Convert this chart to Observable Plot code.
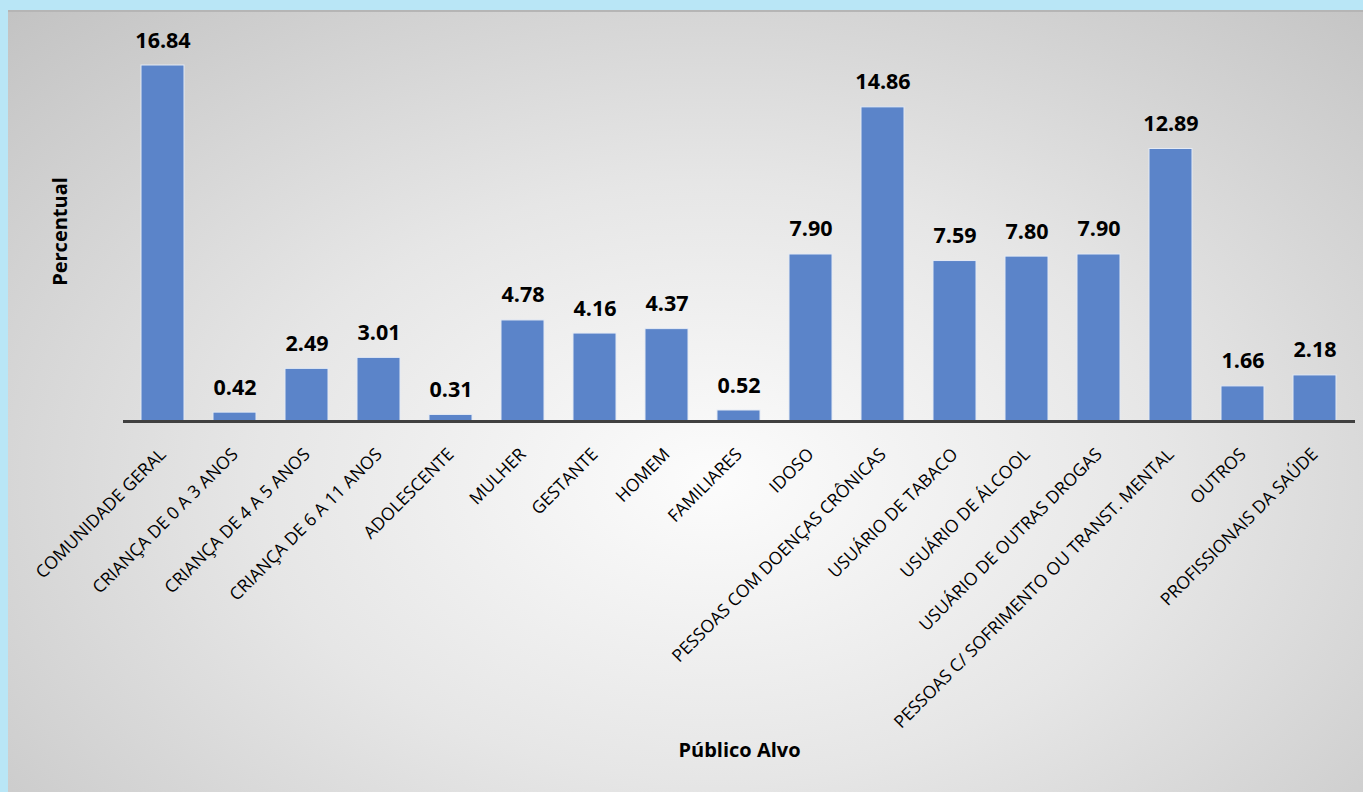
<!DOCTYPE html>
<html>
<head>
<meta charset="utf-8">
<script src="https://cdn.jsdelivr.net/npm/d3@7"></script>
<script src="https://cdn.jsdelivr.net/npm/@observablehq/plot@0.6"></script>
<style>
  html, body { margin: 0; padding: 0; }
  body { width: 1363px; height: 792px; overflow: hidden; background: #b9e6f6; position: relative; font-family: "Open Sans", sans-serif; }
  #panel { position: absolute; left: 8px; top: 10px; width: 1355px; height: 782px;
    border-top: 2px solid #b5b5b5; box-sizing: border-box;
    background: radial-gradient(ellipse 75% 85% at 52% 60%, #fcfcfc 0%, #e6e6e6 45%, #c2c2c2 100%); }
  #chart { position: absolute; left: 0; top: 0; }
</style>
</head>
<body>
<div id="panel"></div>
<div id="chart"></div>
<script>
const categories = ["COMUNIDADE GERAL", "CRIANÇA DE 0 A 3 ANOS", "CRIANÇA DE 4 A 5 ANOS", "CRIANÇA DE 6 A 11 ANOS", "ADOLESCENTE", "MULHER", "GESTANTE", "HOMEM", "FAMILIARES", "IDOSO", "PESSOAS COM DOENÇAS CRÔNICAS", "USUÁRIO DE TABACO", "USUÁRIO DE ÁLCOOL", "USUÁRIO DE OUTRAS DROGAS", "PESSOAS C/ SOFRIMENTO OU TRANST. MENTAL", "OUTROS", "PROFISSIONAIS DA SAÚDE"];
const values = [16.84, 0.42, 2.49, 3.01, 0.31, 4.78, 4.16, 4.37, 0.52, 7.90, 14.86, 7.59, 7.80, 7.90, 12.89, 1.66, 2.18];
const xTitle = "Público Alvo";
const yTitle = "Percentual";

const data = categories.map((c, i) => ({cat: c, val: values[i]}));

const chart = Plot.plot({
  width: 1363,
  height: 792,
  marginLeft: 123,
  marginRight: 8,
  marginTop: 65,
  marginBottom: 371,
  style: {background: "transparent", fontFamily: "'Open Sans', sans-serif", color: "#000"},
  x: {domain: categories, paddingInner: 0.4, paddingOuter: 0.2, label: null},
  y: {domain: [0, 16.84], axis: null},
  marks: [
    Plot.barY(data, {x: "cat", y: "val", fill: "#5b84c9", stroke: "#e4eaf4", strokeWidth: 1}),
    Plot.ruleY([0], {stroke: "#404040", strokeWidth: 3}),
    Plot.text(data, {x: "cat", y: "val", text: d => d.val.toFixed(2), lineAnchor: "bottom", dy: -18, fontSize: 21.5, fontWeight: "bold", fill: "#000"}),
    Plot.axisX({tickSize: 0, tickRotate: -45, tickPadding: 30, fontSize: 17.5, label: null, fill: "#000"}),
    Plot.text([xTitle], {frameAnchor: "bottom", textAnchor: "middle", dy: 329, lineAnchor: "middle", fontSize: 20, fontWeight: "bold", fill: "#000"}),
    Plot.text([yTitle], {frameAnchor: "left", textAnchor: "middle", dx: -63, dy: -12, rotate: -90, lineAnchor: "middle", fontSize: 20, fontWeight: "bold", fill: "#000"})
  ]
});
document.getElementById("chart").appendChild(chart);
</script>
</body>
</html>
